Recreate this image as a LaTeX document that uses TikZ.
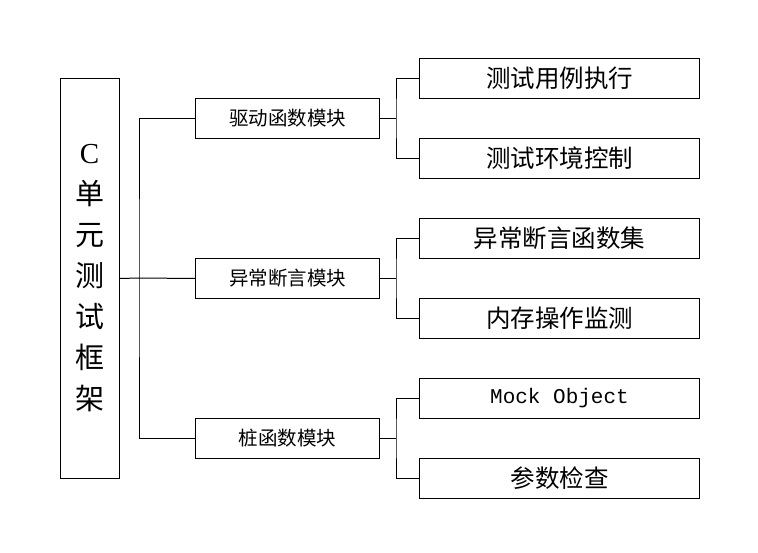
\documentclass[tikz,border=0pt]{standalone}
\usepackage{fontspec}
\setmainfont{Noto Sans CJK SC}
\newfontfamily\monofont{Liberation Mono}
\newfontfamily\latinserif{Liberation Serif}
\begin{document}
\begin{tikzpicture}[x=1pt,y=-1pt,
  box/.style={draw,line width=1pt,inner sep=0pt,anchor=north west},
  leaf/.style={box,minimum width=280pt,minimum height=40pt,font=\fontsize{24.5}{26}\selectfont},
  mid/.style={box,minimum width=184pt,minimum height=40pt,font=\fontsize{19.5}{20}\selectfont},
  conn/.style={line width=1pt,line join=miter}]
\useasboundingbox (0,0) rectangle (758,553);
\node[box,minimum width=59pt,minimum height=400pt] (root) at (60,78) {};
\node[font=\fontsize{29}{41}\selectfont,align=center] (roottext) at (89.5,278) {{\latinserif C}\\单\\元\\测\\试\\框\\架};
\node[mid] (m1) at (195,98) {驱动函数模块};
\node[mid] (m2) at (195,258) {异常断言模块};
\node[mid] (m3) at (195,418) {桩函数模块};
\node[leaf] (l1) at (419,58) {测试用例执行};
\node[leaf] (l2) at (419,138) {测试环境控制};
\node[leaf] (l3) at (419,218) {异常断言函数集};
\node[leaf] (l4) at (419,298) {内存操作监测};
\node[leaf] (l5) at (419,378) {\monofont\fontsize{21}{24}\selectfont Mock Object};
\node[leaf] (l6) at (419,458) {参数检查};
\coordinate (rj) at (139,278);
\draw[conn] (root.east) -- (rj);
\draw[conn] (m1.west) -| (rj) |- (m3.west);
\draw[conn] (rj) -- (m2.west);
\foreach \m/\a/\b in {m1/l1/l2,m2/l3/l4,m3/l5/l6}{
  \coordinate (j\m) at ([xshift=16pt]\m.east);
  \draw[conn] (\m.east) -- (j\m);
  \draw[conn] (\a.west) -| (j\m) |- (\b.west);
}
\end{tikzpicture}
\end{document}
